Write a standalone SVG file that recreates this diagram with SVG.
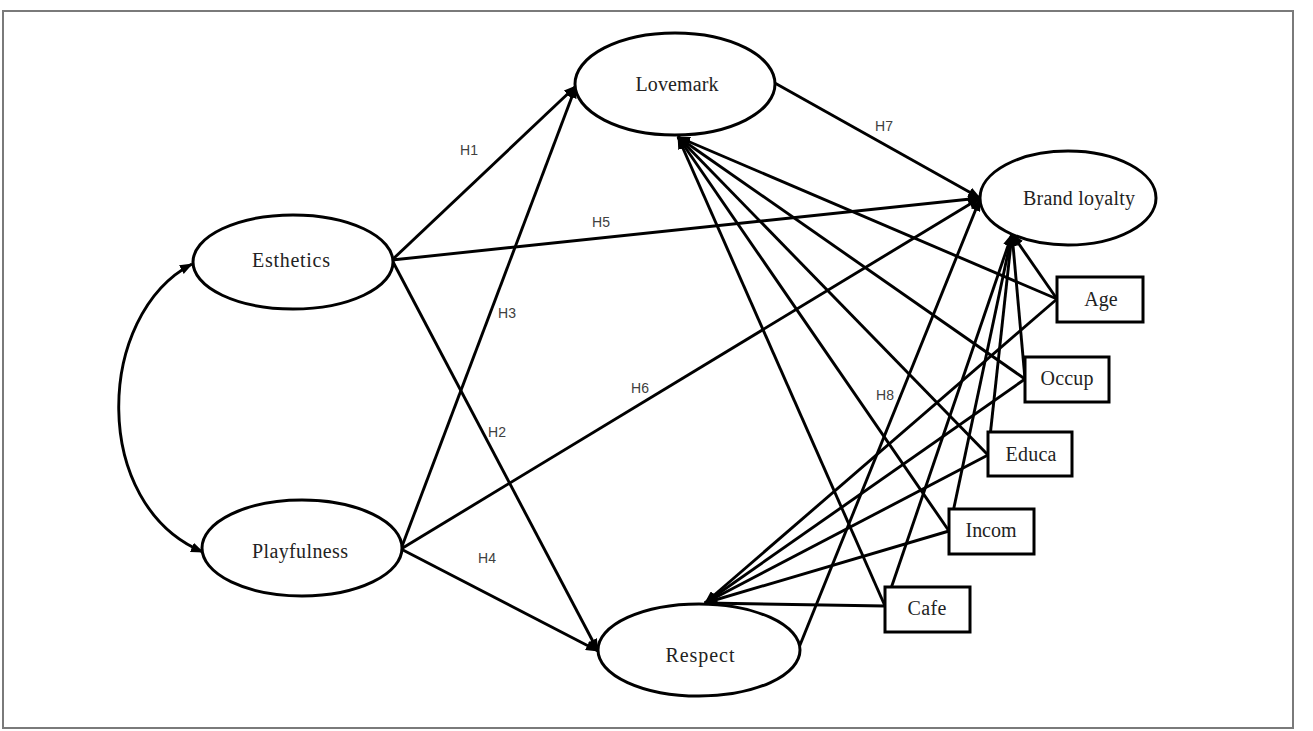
<svg xmlns="http://www.w3.org/2000/svg" width="1313" height="731" viewBox="0 0 1313 731">
<style>
.n{fill:#fff;stroke:#000;stroke-width:3}
.t{font-family:"Liberation Serif","Times New Roman",serif;font-size:20px;fill:#222;text-anchor:middle}
.h{font-family:"Liberation Sans",Arial,sans-serif;font-size:14px;fill:#404040;text-anchor:middle}
.c line,.c path{stroke:#000;stroke-width:2.9;fill:none;marker-end:url(#a)}
</style>
<defs>
<marker id="a" markerUnits="userSpaceOnUse" markerWidth="13" markerHeight="10" refX="12" refY="5" orient="auto-start-reverse">
<path d="M0,0 L13,5 L0,10 z" fill="#000"/>
</marker>
</defs>
<rect x="0" y="0" width="1313" height="731" fill="#fff"/>
<rect x="3" y="11" width="1290" height="717" fill="none" stroke="#7a7a7a" stroke-width="2"/>
<g class="c" id="connectors">
<path d="M192,264 C95,315 90,505 203,552" style="marker-start:url(#a)"/>
<line x1="392" y1="260" x2="576" y2="86"/>
<line x1="392" y1="260" x2="980" y2="198"/>
<line x1="392" y1="260" x2="598" y2="651"/>
<line x1="401" y1="549" x2="576" y2="86"/>
<line x1="401" y1="549" x2="980" y2="198"/>
<line x1="401" y1="549" x2="598" y2="651"/>
<line x1="773" y1="82" x2="980" y2="198"/>
<line x1="798" y1="650" x2="980" y2="199"/>
<line x1="1057" y1="299" x2="678" y2="137"/>
<line x1="1057" y1="299" x2="1012" y2="234"/>
<line x1="1057" y1="299" x2="705" y2="603"/>
<line x1="1025" y1="379" x2="678" y2="137"/>
<line x1="1025" y1="379" x2="1012" y2="234"/>
<line x1="1025" y1="379" x2="705" y2="603"/>
<line x1="988" y1="455" x2="678" y2="137"/>
<line x1="988" y1="455" x2="1012" y2="234"/>
<line x1="988" y1="455" x2="705" y2="603"/>
<line x1="949" y1="531" x2="678" y2="137"/>
<line x1="949" y1="531" x2="1012" y2="234"/>
<line x1="949" y1="531" x2="705" y2="603"/>
<line x1="885" y1="606" x2="678" y2="137"/>
<line x1="885" y1="606" x2="1012" y2="234"/>
<line x1="885" y1="606" x2="705" y2="603"/>
</g>
<g id="labels">
<text class="h" x="469" y="155">H1</text>
<text class="h" x="601" y="227">H5</text>
<text class="h" x="507" y="318">H3</text>
<text class="h" x="640" y="393">H6</text>
<text class="h" x="497" y="437">H2</text>
<text class="h" x="487" y="563">H4</text>
<text class="h" x="884" y="131">H7</text>
<text class="h" x="885" y="400">H8</text>
</g>
<g id="lovemark"><ellipse class="n" cx="675" cy="84" rx="100" ry="51"/><text class="t" x="677" y="91" textLength="83" lengthAdjust="spacing">Lovemark</text></g>
<g id="brand-loyalty"><ellipse class="n" cx="1068" cy="198" rx="88" ry="47"/><text class="t" x="1079" y="205" textLength="112" lengthAdjust="spacing">Brand loyalty</text></g>
<g id="esthetics"><ellipse class="n" cx="293" cy="262" rx="100" ry="47"/><text class="t" x="291" y="267" textLength="78" lengthAdjust="spacing">Esthetics</text></g>
<g id="playfulness"><ellipse class="n" cx="302" cy="548" rx="100" ry="48"/><text class="t" x="300" y="558" textLength="96" lengthAdjust="spacing">Playfulness</text></g>
<g id="respect"><ellipse class="n" cx="699" cy="650" rx="101" ry="46"/><text class="t" x="700" y="662" textLength="69" lengthAdjust="spacing">Respect</text></g>
<g id="age"><rect class="n" x="1057" y="277" width="86" height="45"/><text class="t" x="1101" y="306">Age</text></g>
<g id="occup"><rect class="n" x="1025" y="357" width="84" height="45"/><text class="t" x="1067" y="385" textLength="53" lengthAdjust="spacing">Occup</text></g>
<g id="educa"><rect class="n" x="988" y="432" width="84" height="44"/><text class="t" x="1031" y="461" textLength="51" lengthAdjust="spacing">Educa</text></g>
<g id="incom"><rect class="n" x="949" y="509" width="85" height="45"/><text class="t" x="991" y="537" textLength="51" lengthAdjust="spacing">Incom</text></g>
<g id="cafe"><rect class="n" x="885" y="587" width="85" height="45"/><text class="t" x="927" y="615" textLength="39" lengthAdjust="spacing">Cafe</text></g>
</svg>
